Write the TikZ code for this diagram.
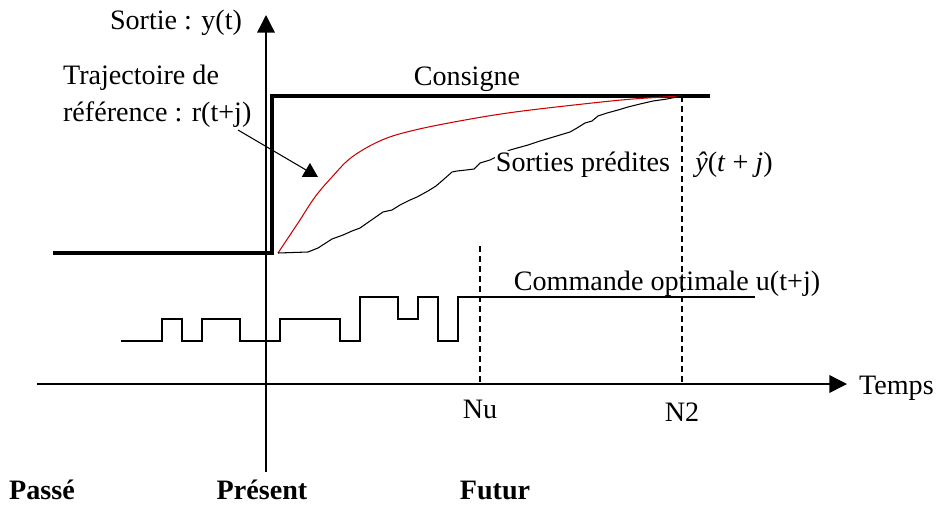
\documentclass[tikz,border=0pt]{standalone}
\usepackage{fontspec}
\setmainfont{Liberation Serif}
\usepackage{tikz}
\usetikzlibrary{arrows.meta, positioning, calc}

\begin{document}
\begin{tikzpicture}[
    x=0.02cm, y=-0.02cm,
    lbl/.style={font=\fontsize{16}{21}\selectfont, inner sep=1pt},
    era/.style={font=\fontsize{16}{19}\selectfont\bfseries, inner sep=1pt},
    axis/.style={-{Triangle[length=10pt, width=10pt]}, line width=0.8pt},
    setpt/.style={line width=2.8pt},
    hor/.style={dashed, dash pattern=on 3.4pt off 2.3pt, line width=0.7pt},
    sig/.style={line width=0.8pt},
    ptr/.style={-{Triangle[length=8pt, width=9pt]}, line width=0.6pt},
]
\useasboundingbox (0,0) rectangle (947,505);

% --- axes ---
\coordinate (O) at (266,384);
\coordinate (ybot) at (266,472);
\coordinate (ytop) at (266,15);
\coordinate (xleft) at (37,384);
\coordinate (xright) at (847,384);
\draw[axis] (ybot) -- (ytop);
\draw[axis] (xleft) -- (xright);

\node[lbl] (sortie) at (176,23) {Sortie : y(t)};
\node[lbl, anchor=west] (temps) at (857,388) {Temps};

% --- consigne (step) ---
\draw[setpt] (53,253) -- (272,253) -- (272,96) -- (710,96);
\node[lbl] (consigne) at (467,79) {Consigne};

% --- horizons Nu, N2 ---
\node[lbl] (nu) at (480,409) {Nu};
\node[lbl] (ndeux) at (682,412) {N2};
\coordinate (nutop) at (480,246);
\coordinate (ndtop) at (682,96);
\draw[hor] (nutop) -- (nutop |- O);
\draw[hor] (ndtop) -- (ndtop |- O);

% --- trajectoire de reference ---
\draw[red!80!black, line width=0.6pt] plot[smooth, tension=0.6] coordinates {
    (278,253) (298,223) (315,197) (332,177) (352,157) (382,140)
    (415,130) (465,120) (515,112) (583,104) (633,99) (682,96)};
\node[lbl, align=left, anchor=west] (traj) at (61,96)
    {Trajectoire de\\référence : r(t+j)};
\coordinate (trajstart) at (238,130);
\coordinate (trajtip) at (318,177);
\draw[ptr] (trajstart) -- (trajtip);

% --- sorties predites ---
\draw[line width=0.6pt] plot coordinates {
    (278,253) (308,252) (318,248) (332,239) (343,235) (352,231) (360,228)
    (370,221) (383,212) (392,210) (400,205) (410,200) (417,197) (428,191)
    (436,186) (443,180) (452,172) (457,171) (466,170) (474,169) (480,163)
    (490,160) (498,156) (510,150) (528,145) (540,141) (550,138) (560,135)
    (570,132) (577,128) (585,123) (592,121) (598,116) (607,113) (618,110)
    (628,107) (640,104) (653,101) (667,99) (682,96)};
\node[lbl, fill=white, inner sep=0.5pt] (predites) at (583,165) {Sorties prédites};
\node[lbl] (yhat) at (734,165) {\textit{\^{y}}(\textit{t} + \textit{j})};

% --- commande optimale ---
\draw[sig] (121,341) -- (162,341) -- (162,319) -- (182,319) -- (182,341)
    -- (202,341) -- (202,319) -- (240,319) -- (240,341) -- (280,341)
    -- (280,319) -- (340,319) -- (340,341) -- (360,341) -- (360,297)
    -- (398,297) -- (398,319) -- (418,319) -- (418,297) -- (438,297)
    -- (438,341) -- (458,341) -- (458,297) -- (755,297);
\node[lbl] (commande) at (667,284) {Commande optimale u(t+j)};

% --- passe / present / futur ---
\node[era] (passe) at (42,490) {Passé};
\node[era] (present) at (262,490) {Présent};
\node[era] (futur) at (495,490) {Futur};

\end{tikzpicture}
\end{document}
